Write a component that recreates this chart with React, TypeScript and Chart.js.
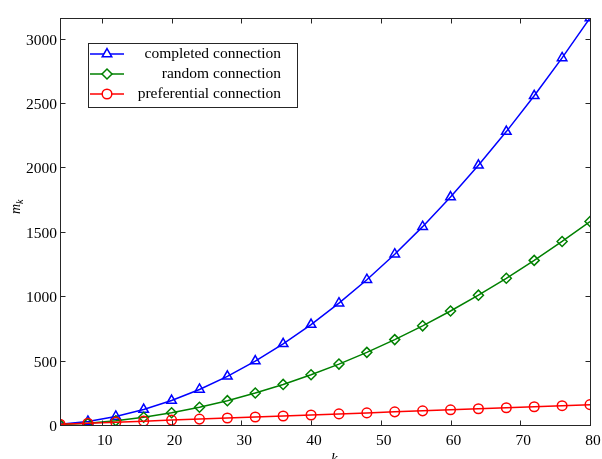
import React, { useEffect, useRef } from 'react';
import { Chart, registerables } from 'chart.js';

Chart.register(...registerables);

const kValues = [4, 8, 12, 16, 20, 24, 28, 32, 36, 40, 44, 48, 52, 56, 60, 64, 68, 72, 76, 80];
const completedConnection = [6, 28, 66, 120, 190, 276, 378, 496, 630, 780, 946, 1128, 1326, 1540, 1770, 2016, 2278, 2556, 2850, 3160];
const randomConnection = [3, 14, 33, 60, 95, 138, 189, 248, 315, 390, 473, 564, 663, 770, 885, 1008, 1139, 1278, 1425, 1580];
const preferentialConnection = [6, 14, 22, 30, 38, 46, 54, 62, 70, 78, 86, 94, 102, 110, 118, 126, 134, 142, 150, 158];

const xTickValues = [10, 20, 30, 40, 50, 60, 70, 80];
const yTickValues = [0, 500, 1000, 1500, 2000, 2500, 3000];

const seriesLabels = ['completed connection', 'random connection', 'preferential connection'];
const seriesColors = ['#0000ff', '#008000', '#ff0000'];
const seriesMarkers = ['triangle', 'rectRot', 'circle'];
const seriesRadius = [5.5, 5, 4.8];

const FONT = '"Liberation Serif", "Times New Roman", serif';

function drawMarker(ctx: CanvasRenderingContext2D, shape: string, x: number, y: number, r: number) {
  ctx.beginPath();
  if (shape === 'triangle') {
    for (let i = 0; i < 3; i++) {
      const a = (i * 2 * Math.PI) / 3;
      const px = x + Math.sin(a) * r;
      const py = y - Math.cos(a) * r;
      if (i === 0) ctx.moveTo(px, py);
      else ctx.lineTo(px, py);
    }
    ctx.closePath();
  } else if (shape === 'rectRot') {
    ctx.moveTo(x - r, y);
    ctx.lineTo(x, y - r);
    ctx.lineTo(x + r, y);
    ctx.lineTo(x, y + r);
    ctx.closePath();
  } else {
    ctx.arc(x, y, r, 0, Math.PI * 2);
  }
  ctx.fillStyle = '#ffffff';
  ctx.fill();
  ctx.stroke();
}

const framePlugin = {
  id: 'frame',
  afterDraw(chart: any) {
    const { ctx, chartArea: a, scales } = chart;
    const xs = scales.x;
    const ys = scales.y;
    ctx.save();
    ctx.strokeStyle = '#262626';
    ctx.lineWidth = 1;
    const L = Math.round(a.left) + 0.5;
    const R = Math.round(a.right) + 0.5;
    const T = Math.round(a.top) + 0.5;
    const B = Math.round(a.bottom) + 0.5;
    ctx.strokeRect(L, T, R - L, B - T);
    const tl = 5;
    ctx.beginPath();
    xTickValues.forEach((v) => {
      const px = Math.round(xs.getPixelForValue(v)) + 0.5;
      ctx.moveTo(px, B);
      ctx.lineTo(px, B - tl);
      ctx.moveTo(px, T);
      ctx.lineTo(px, T + tl);
    });
    yTickValues.forEach((v) => {
      const py = Math.round(ys.getPixelForValue(v)) + 0.5;
      ctx.moveTo(L, py);
      ctx.lineTo(L + tl, py);
      ctx.moveTo(R, py);
      ctx.lineTo(R - tl, py);
    });
    ctx.stroke();

    // Legend
    const lx = 88;
    const ly = 43;
    const lw = 209;
    const lh = 64;
    ctx.fillStyle = '#ffffff';
    ctx.fillRect(lx, ly, lw, lh);
    ctx.strokeStyle = '#262626';
    ctx.lineWidth = 1;
    ctx.strokeRect(lx + 0.5, ly + 0.5, lw, lh);
    seriesLabels.forEach((label, i) => {
      const y = 54 + i * 20;
      ctx.strokeStyle = seriesColors[i];
      ctx.lineWidth = 1.5;
      ctx.beginPath();
      ctx.moveTo(90, y);
      ctx.lineTo(124, y);
      ctx.stroke();
      drawMarker(ctx, seriesMarkers[i], 107, y, seriesRadius[i]);
      ctx.fillStyle = '#000000';
      ctx.font = `15.5px ${FONT}`;
      ctx.textAlign = 'right';
      ctx.textBaseline = 'middle';
      ctx.fillText(label, 281, y);
    });

    // Axis titles
    ctx.fillStyle = '#000000';
    ctx.textBaseline = 'alphabetic';
    ctx.textAlign = 'left';
    ctx.font = `italic 15px ${FONT}`;
    ctx.fillText('k', 331, 463);

    ctx.save();
    ctx.translate(20, 214);
    ctx.rotate(-Math.PI / 2);
    ctx.font = `italic 14px ${FONT}`;
    ctx.fillText('m', 0, 0);
    const mw = ctx.measureText('m').width;
    ctx.font = `italic 10px ${FONT}`;
    ctx.fillText('k', mw, 3);
    ctx.restore();

    ctx.restore();
  },
};

export default function App() {
  const ref = useRef<HTMLCanvasElement | null>(null);
  useEffect(() => {
    if (!ref.current) return;
    const mk = (vals: number[]) => kValues.map((k, i) => ({ x: k, y: vals[i] }));
    const seriesData = [completedConnection, randomConnection, preferentialConnection];
    const chart = new Chart(ref.current, {
      type: 'line',
      data: {
        datasets: seriesData.map((vals, i) => ({
          label: seriesLabels[i],
          data: mk(vals),
          borderColor: seriesColors[i],
          backgroundColor: '#ffffff',
          borderWidth: 1.5,
          pointStyle: seriesMarkers[i] as any,
          pointRadius: seriesRadius[i],
          pointBorderWidth: 1.5,
          pointBackgroundColor: 'rgba(255,255,255,0)',
          pointBorderColor: seriesColors[i],
          fill: false,
          tension: 0,
          order: 2 - i,
        })),
      },
      options: {
        responsive: false,
        animation: false,
        events: [],
        layout: { padding: { top: 18, right: 12, left: 0, bottom: 0 } },
        plugins: { legend: { display: false }, tooltip: { enabled: false } },
        scales: {
          x: {
            type: 'linear',
            min: 4,
            max: 80,
            grid: { display: false, drawTicks: false },
            border: { display: false },
            afterBuildTicks: (s: any) => {
              s.ticks = xTickValues.map((v) => ({ value: v }));
            },
            afterFit: (s: any) => {
              s.height = 34;
              s.paddingLeft = 0;
              s.paddingRight = 0;
            },
            ticks: {
              color: '#000000',
              font: { family: FONT, size: 15.5 },
              padding: 7,
              labelOffset: 3,
              maxRotation: 0,
              autoSkip: false,
              callback: (v: any) => String(v),
            },
          },
          y: {
            type: 'linear',
            min: 0,
            max: 3160,
            grid: { display: false, drawTicks: false },
            border: { display: false },
            afterBuildTicks: (s: any) => {
              s.ticks = yTickValues.map((v) => ({ value: v }));
            },
            afterFit: (s: any) => {
              s.width = 60;
              s.paddingTop = 0;
              s.paddingBottom = 0;
            },
            ticks: {
              color: '#000000',
              font: { family: FONT, size: 15.5 },
              padding: 3,
              labelOffset: 2,
              autoSkip: false,
              callback: (v: any) => String(v),
            },
          },
        },
      },
      plugins: [framePlugin],
    });
    return () => chart.destroy();
  }, []);
  return (
    <div style={{ position: 'fixed', left: 0, top: 0, width: 602, height: 459, background: '#ffffff' }}>
      <canvas ref={ref} width={602} height={459} />
    </div>
  );
}
